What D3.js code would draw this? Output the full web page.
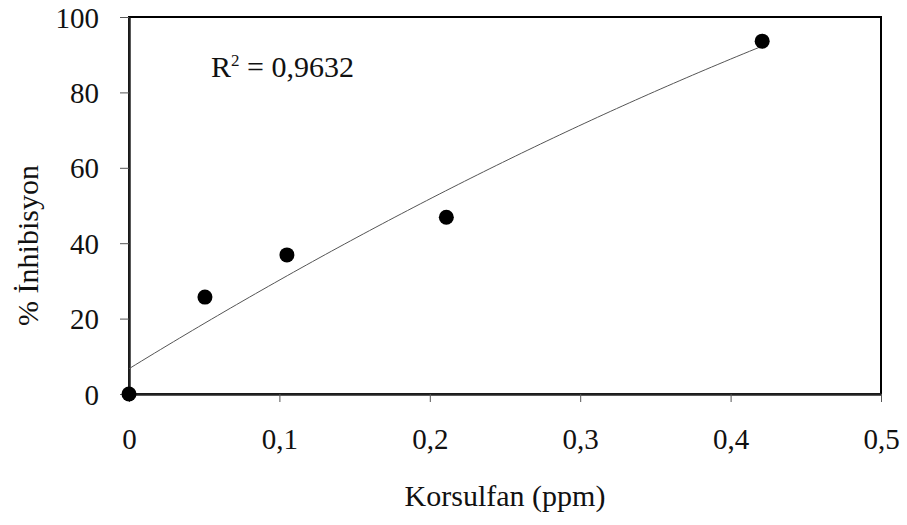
<!DOCTYPE html>
<html>
<head>
<meta charset="utf-8">
<script src="https://cdn.jsdelivr.net/npm/d3@7"></script>
<style>
  html, body { margin: 0; padding: 0; background: #fff; }
  svg { display: block; }
</style>
</head>
<body>
<svg id="chart" width="907" height="525"></svg>
<script>
// Data
const concentrations = [0, 0.0505, 0.105, 0.211, 0.421]; // Korsulfan (ppm)
const inhibition = [0, 25.7, 36.9, 46.9, 93.6];          // % İnhibisyon
const xTicks = [0, 0.1, 0.2, 0.3, 0.4, 0.5];
const yTicks = [0, 20, 40, 60, 80, 100];
const rSquaredLabel = "0,9632";
const xTitle = "Korsulfan (ppm)";
const yTitle = "% İnhibisyon";

const FONT = "'Liberation Serif', 'DejaVu Serif', 'Times New Roman', serif";

const svg = d3.select("#chart");
const margin = { left: 129, right: 26, top: 17, bottom: 131 };
const W = 907, H = 525;
const iw = W - margin.left - margin.right;
const ih = H - margin.top - margin.bottom;

const x = d3.scaleLinear().domain([0, 0.5]).range([margin.left, margin.left + iw]);
const y = d3.scaleLinear().domain([0, 100]).range([margin.top + ih, margin.top]);

const locale = d3.formatLocale({ decimal: ",", thousands: ".", grouping: [3], currency: ["", ""] });
const fmtX = d => d === 0 ? "0" : locale.format(".1f")(d);

// Frame (top & right)
svg.append("rect")
  .attr("x", x(0)).attr("y", y(100))
  .attr("width", x(0.5) - x(0)).attr("height", y(0) - y(100))
  .attr("fill", "none").attr("stroke", "#000").attr("stroke-width", 2);

// Axes
const xAxis = d3.axisBottom(x).tickValues(xTicks).tickFormat(fmtX).tickSizeOuter(0).tickSizeInner(8).tickPadding(26);
const yAxis = d3.axisLeft(y).tickValues(yTicks).tickFormat(d3.format("d")).tickSizeOuter(0).tickSizeInner(9).tickPadding(21);

const gx = svg.append("g").attr("transform", `translate(0,${y(0)})`).call(xAxis);
const gy = svg.append("g").attr("transform", `translate(${x(0)},0)`).call(yAxis);

[gx, gy].forEach(g => {
  g.attr("font-family", FONT).attr("font-size", 29);
  g.select(".domain").attr("stroke", "#222").attr("stroke-width", 2.5);
  g.selectAll(".tick line").attr("stroke", "#555").attr("stroke-width", 1);
  g.selectAll(".tick text").attr("font-family", FONT).attr("font-size", 29).attr("fill", "#111");
});
gy.selectAll(".tick text").attr("dy", "0.35em");
gx.selectAll(".tick text").attr("dy", "0.71em");

// Quadratic least-squares trendline computed from the data
function polyFit2(xs, ys) {
  const n = xs.length;
  let s = [0, 0, 0, 0, 0], t = [0, 0, 0];
  for (let i = 0; i < n; i++) {
    let p = 1;
    for (let k = 0; k <= 4; k++) { s[k] += p; if (k <= 2) t[k] += p * ys[i]; p *= xs[i]; }
  }
  const A = [[s[0], s[1], s[2], t[0]], [s[1], s[2], s[3], t[1]], [s[2], s[3], s[4], t[2]]];
  for (let i = 0; i < 3; i++) {
    for (let j = i + 1; j < 3; j++) {
      const f = A[j][i] / A[i][i];
      for (let k = i; k < 4; k++) A[j][k] -= f * A[i][k];
    }
  }
  const c = [0, 0, 0];
  for (let i = 2; i >= 0; i--) {
    let v = A[i][3];
    for (let k = i + 1; k < 3; k++) v -= A[i][k] * c[k];
    c[i] = v / A[i][i];
  }
  return c;
}
const coef = polyFit2(concentrations, inhibition);
const xmax = d3.max(concentrations);
const trendX = d3.range(0, 101).map(i => xmax * i / 100);
const line = d3.line().x(d => x(d)).y(d => y(coef[0] + coef[1] * d + coef[2] * d * d));
svg.append("path").datum(trendX).attr("d", line)
  .attr("fill", "none").attr("stroke", "#555").attr("stroke-width", 1);

// Points
svg.append("g").selectAll("circle")
  .data(concentrations.map((c, i) => [c, inhibition[i]]))
  .join("circle")
  .attr("cx", d => x(d[0])).attr("cy", d => y(d[1]))
  .attr("r", 7.5).attr("fill", "#000");

// R² annotation
const rt = svg.append("text").attr("x", 211).attr("y", 77)
  .attr("font-family", FONT).attr("font-size", 30).attr("fill", "#111");
rt.append("tspan").text("R");
rt.append("tspan").attr("dy", -11).attr("font-size", 17).text("2");
rt.append("tspan").attr("dy", 11).text(" = " + rSquaredLabel);

// Axis titles
svg.append("text")
  .attr("x", x(0.25)).attr("y", 506)
  .attr("text-anchor", "middle")
  .attr("font-family", FONT).attr("font-size", 30).attr("fill", "#111")
  .text(xTitle);

svg.append("text")
  .attr("transform", `translate(38,${y(50) + 40}) rotate(-90)`)
  .attr("text-anchor", "middle")
  .attr("font-family", FONT).attr("font-size", 30).attr("fill", "#111")
  .text(yTitle);
</script>
</body>
</html>
